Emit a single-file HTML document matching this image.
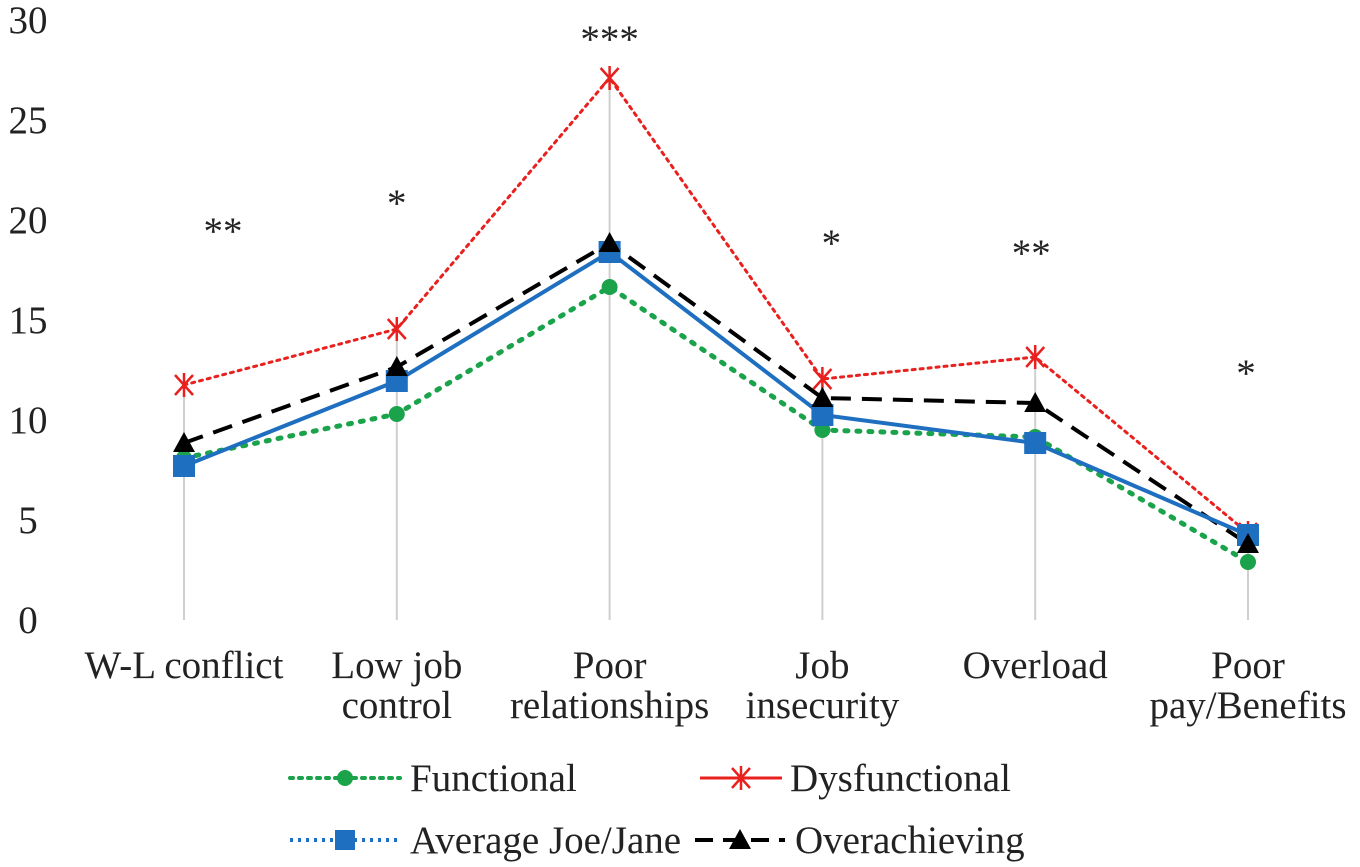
<!DOCTYPE html>
<html><head><meta charset="utf-8"><style>
body{margin:0;background:#fff;}
svg{display:block;font-family:"Liberation Serif",serif;}
</style></head><body>
<svg id="chart" width="1360" height="867">
<g id="grid"></g><g id="axes"></g><g id="series"></g><g id="stars"></g>
<g id="legend">
 <g>
  <line x1="290" y1="778" x2="400" y2="778" stroke="#1aa34a" stroke-width="4" stroke-dasharray="3,6" stroke-linecap="round"/>
  <circle cx="345" cy="778" r="8" fill="#1aa34a"/>
  <text x="410" y="791" font-size="39" fill="#222">Functional</text></g>
 <g>
  <line x1="700" y1="778" x2="782" y2="778" stroke="#e8201e" stroke-width="3"/>
  <g stroke="#e8201e" stroke-width="2.5"><line x1="732" y1="768" x2="750" y2="788"/><line x1="732" y1="788" x2="750" y2="768"/><line x1="741" y1="766" x2="741" y2="790"/></g>
  <text x="790" y="791" font-size="39" fill="#222">Dysfunctional</text></g>
 <g>
  <line x1="290" y1="840" x2="400" y2="840" stroke="#1f6fc0" stroke-width="4" stroke-dasharray="3,5"/>
  <rect x="335" y="830" width="20" height="20" fill="#1f6fc0"/>
  <text x="410" y="853" font-size="39" fill="#222">Average Joe/Jane</text></g>
 <g>
  <line x1="695" y1="840" x2="785" y2="840" stroke="#000" stroke-width="4" stroke-dasharray="18,10"/>
  <polygon points="740,829 751,849 729,849" fill="#000"/>
  <text x="795" y="853" font-size="39" fill="#222">Overachieving</text></g>
</g>
</svg>
<script>
const categories=[["W-L conflict"],["Low job","control"],["Poor","relationships"],["Job","insecurity"],["Overload"],["Poor","pay/Benefits"]];
const functional=[8.1,10.3,16.65,9.5,9.15,2.9];
const dysfunctional=[11.75,14.55,27.1,12.05,13.15,4.35];
const average=[7.7,11.95,18.4,10.25,8.85,4.25];
const overachieving=[8.85,12.65,18.85,11.1,10.85,3.8];
const yTicks=[0,5,10,15,20,25,30];
const stars=["**","*","***","*","**","*"];
const starValues=[19.6,21,29.2,19,18.5,12.5];
const starOffsets=[39,0,0,9,-4,-2];
const NS="http://www.w3.org/2000/svg";
const xs=i=>184+i*212.8;
const ys=v=>620-v*20;
function mk(tag,attrs,parent){const e=document.createElementNS(NS,tag);for(const k in attrs)e.setAttribute(k,attrs[k]);parent.appendChild(e);return e;}
const grid=document.getElementById('grid'),axes=document.getElementById('axes'),ser=document.getElementById('series'),st=document.getElementById('stars');
yTicks.forEach(t=>{const e=mk('text',{x:28,y:ys(t)+13,'font-size':39,'text-anchor':'middle',fill:'#222'},axes);e.textContent=t;

});
categories.forEach((c,i)=>{
 const mx=Math.max(functional[i],dysfunctional[i],average[i],overachieving[i]);
 const l=mk('line',{x1:xs(i),x2:xs(i),y1:ys(0),y2:ys(mx),stroke:'#cfcfcf','stroke-width':2},grid);
 
 
 c.forEach((s,j)=>{const e=mk('text',{x:xs(i),y:678+j*40,'font-size':39,'text-anchor':'middle',fill:'#222'},axes);e.textContent=s;
 
 });
 const s=mk('text',{x:xs(i)+starOffsets[i],y:ys(starValues[i])+16,'font-size':39,'text-anchor':'middle',fill:'#222'},st);s.textContent=stars[i];
 
 
});
function line(vals,color,w,dash,name){const p=mk('polyline',{points:vals.map((v,i)=>xs(i)+','+ys(v)).join(' '),fill:'none',stroke:color,'stroke-width':w,'stroke-dasharray':dash,'stroke-linecap':dash.startsWith('3')?'round':'butt'},ser);

}
line(functional,'#1aa34a',5,'3,9','functional-line');
line(dysfunctional,'#e8201e',3,'3,5','dysfunctional-line');
line(overachieving,'#000',4,'20,11','overachieving-line');
line(average,'#1f6fc0',4,'','average-line');
functional.forEach((v,i)=>{const c=mk('circle',{cx:xs(i),cy:ys(v),r:8,fill:'#1aa34a'},ser);

});
dysfunctional.forEach((v,i)=>{const g=mk('g',{stroke:'#e8201e','stroke-width':2.5},ser);


const x=xs(i),y=ys(v);mk('line',{x1:x-9,y1:y-10,x2:x+9,y2:y+10},g);mk('line',{x1:x-9,y1:y+10,x2:x+9,y2:y-10},g);mk('line',{x1:x,y1:y-12,x2:x,y2:y+12},g);});
average.forEach((v,i)=>{const r=mk('rect',{x:xs(i)-11,y:ys(v)-11,width:22,height:22,fill:'#1f6fc0'},ser);

});
overachieving.forEach((v,i)=>{const x=xs(i),y=ys(v);const p=mk('polygon',{points:`${x},${y-11} ${x+11},${y+9} ${x-11},${y+9}`,fill:'#000'},ser);

});
</script>
</body></html>
